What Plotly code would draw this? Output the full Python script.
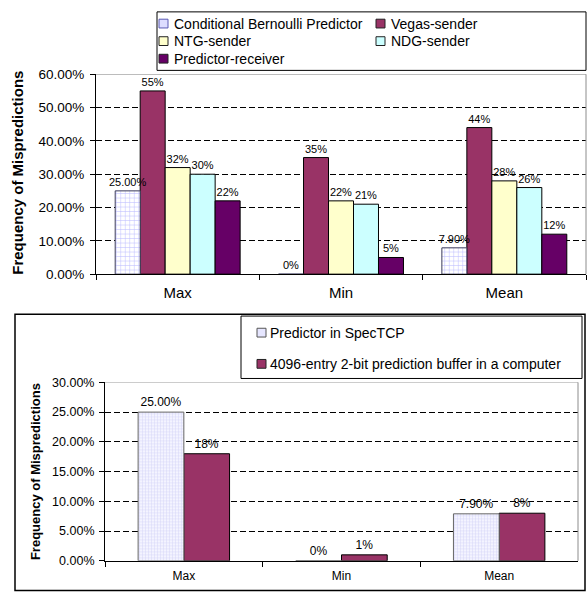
import plotly.graph_objects as go

W, H = 588, 600
FONT = "Liberation Sans, Arial, sans-serif"

categories = ["Max", "Min", "Mean"]

# Upper chart: frequency of mispredictions per sender/receiver predictor
upper_series = [
    "Conditional Bernoulli Predictor",
    "Vegas-sender",
    "NTG-sender",
    "NDG-sender",
    "Predictor-receiver",
]
cond_bernoulli = [0.25, 0.0, 0.079]
vegas_sender = [0.55, 0.35, 0.44]
ntg_sender = [0.32, 0.22, 0.28]
ndg_sender = [0.30, 0.21, 0.26]
predictor_receiver = [0.22, 0.05, 0.12]
upper_values = [cond_bernoulli, vegas_sender, ntg_sender, ndg_sender, predictor_receiver]
upper_decimals = [2, 0, 0, 0, 0]

# Lower chart: SpecTCP predictor vs. a classic 2-bit branch prediction buffer
lower_series = [
    "Predictor in SpecTCP",
    "4096-entry 2-bit prediction buffer in a computer",
]
spectcp = [0.25, 0.0, 0.079]
buffer_4096 = [0.18, 0.01, 0.08]
lower_values = [spectcp, buffer_4096]
lower_decimals = [2, 0]


def px(x):
    return x / W


def py(y):
    return 1 - y / H


def pct_label(v, decimals):
    return "0%" if v == 0 else f"{v * 100:.{decimals}f}%"


upper_markers = [
    dict(color="white", line=dict(color="#3a3a5a", width=1),
         pattern=dict(shape="+", fgcolor="#7a7aff", bgcolor="white", size=4.5, solidity=0.22)),
    dict(color="#993366", line=dict(color="black", width=1)),
    dict(color="#FFFFCC", line=dict(color="black", width=1)),
    dict(color="#CCFFFF", line=dict(color="black", width=1)),
    dict(color="#660066", line=dict(color="black", width=1)),
]
lower_markers = [
    dict(color="#F0F0FF", line=dict(color="#666666", width=1),
         pattern=dict(shape="+", fgcolor="#b4b4ee", bgcolor="#F4F4FF", size=3, solidity=0.3)),
    dict(color="#993366", line=dict(color="black", width=1)),
]

UW = 0.153   # upper bar width (category units)
LW = 0.29    # lower bar width

fig = go.Figure()

# the patterned series is added last so its wide labels stay on top of the neighbouring bars
for i in [1, 2, 3, 4, 0]:
    name, vals = upper_series[i], upper_values[i]
    fig.add_trace(go.Bar(
        x=categories, y=vals, name=name, marker=upper_markers[i],
        width=UW, offset=-2.5 * UW + i * UW,
        text=[pct_label(v, upper_decimals[i]) for v in vals],
        textposition="outside", constraintext="none", cliponaxis=False,
        textfont=dict(size=11, color="black", family=FONT),
        xaxis="x", yaxis="y", showlegend=False, hoverinfo="skip",
    ))

for i in [1, 0]:
    name, vals = lower_series[i], lower_values[i]
    fig.add_trace(go.Bar(
        x=categories, y=vals, name=name, marker=lower_markers[i],
        width=LW, offset=-LW + i * LW,
        text=[pct_label(v, lower_decimals[i]) for v in vals],
        textposition="outside", constraintext="none", cliponaxis=False,
        textfont=dict(size=12, color="black", family=FONT),
        xaxis="x2", yaxis="y2", showlegend=False, hoverinfo="skip",
    ))

grid = dict(showgrid=True, gridcolor="black", griddash="6px,3px", gridwidth=1,
            zeroline=False, showline=True, linecolor="black", linewidth=1,
            ticks="outside", tickcolor="black", ticklen=5, tickformat=".2%")
cat = dict(type="category", range=[-0.5, 2.5], showline=True, linecolor="black",
           linewidth=1, ticks="outside", tickson="boundaries", tickcolor="black",
           ticklen=5, showgrid=False)

fig.update_layout(
    width=W, height=H, margin=dict(l=0, r=0, t=0, b=0),
    paper_bgcolor="white", plot_bgcolor="white",
    barmode="overlay", showlegend=False,
    font=dict(family=FONT, color="black"),
    xaxis=dict(cat, domain=[px(96), px(586)], anchor="y",
               tickfont=dict(size=15, family=FONT, color="black"), ticklabelstandoff=5),
    yaxis=dict(grid, domain=[py(274), py(69)], anchor="x", range=[0, 0.6], dtick=0.1,
               tickfont=dict(size=13.5, family=FONT, color="black"), ticklabelstandoff=3),
    xaxis2=dict(cat, domain=[px(105), px(578)], anchor="y2",
                tickfont=dict(size=12, family=FONT, color="black"), ticklabelstandoff=4),
    yaxis2=dict(grid, domain=[py(568), py(385)], anchor="x2", range=[0, 0.3], dtick=0.05,
                tickfont=dict(size=12.5, family=FONT, color="black"), ticklabelstandoff=2),
)

shapes = []
# plot-area frames (top and right edges in grey)
for xa, ya, top in (("x", "y", 0.6), ("x2", "y2", 0.3)):
    shapes.append(dict(type="line", xref=f"{xa} domain", yref=ya, x0=0, x1=1, y0=top, y1=top,
                       line=dict(color="#8c8c8c", width=1), layer="above"))
    shapes.append(dict(type="line", xref=f"{xa} domain", yref=f"{ya} domain", x0=1, x1=1,
                       y0=0, y1=1, line=dict(color="#8c8c8c", width=1), layer="above"))

# outer frame of the lower chart
shapes.append(dict(type="rect", xref="paper", yref="paper", x0=px(15), x1=px(585),
                   y0=py(598.5), y1=py(315), line=dict(color="black", width=1.5)))

# legend boxes
shapes.append(dict(type="rect", xref="paper", yref="paper", x0=px(157), x1=px(586),
                   y0=py(65), y1=py(5), line=dict(color="black", width=1)))
shapes.append(dict(type="rect", xref="paper", yref="paper", x0=px(241), x1=px(582),
                   y0=py(381), y1=py(317), line=dict(color="black", width=1)))

annotations = []

# upper legend entries: two columns, three rows
upper_swatch = [("#DDDDFF", "#5a5ab4"), ("#993366", "#222222"), ("#FFFFCC", "#222222"),
                ("#CCFFFF", "#222222"), ("#660066", "#222222")]
col_x = [159, 376]
row_y = [17, 35, 53]
for i, name in enumerate(upper_series):
    cx, ry = col_x[i % 2], row_y[i // 2]
    fill, edge = upper_swatch[i]
    shapes.append(dict(type="rect", xref="paper", yref="paper", x0=px(cx), x1=px(cx + 9),
                       y0=py(ry + 4.5), y1=py(ry - 4.5), fillcolor=fill,
                       line=dict(color=edge, width=1)))
    annotations.append(dict(text=name, xref="paper", yref="paper", x=px(cx + 13), y=py(ry),
                            xanchor="left", yanchor="middle", showarrow=False,
                            font=dict(size=14, family=FONT, color="black")))

lower_swatch = [("#E6E6FF", "#555555"), ("#993366", "#222222")]
for i, name in enumerate(lower_series):
    ry = [334, 366][i]
    fill, edge = lower_swatch[i]
    shapes.append(dict(type="rect", xref="paper", yref="paper", x0=px(257), x1=px(266),
                       y0=py(ry + 4.5), y1=py(ry - 4.5), fillcolor=fill,
                       line=dict(color=edge, width=1)))
    annotations.append(dict(text=name, xref="paper", yref="paper", x=px(268), y=py(ry),
                            xanchor="left", yanchor="middle", showarrow=False,
                            font=dict(size=14, family=FONT, color="black")))

# axis titles
annotations.append(dict(text="<b>Frequency of Mispredictions</b>", xref="paper", yref="paper",
                        x=px(18), y=py(170), textangle=-90, showarrow=False,
                        xanchor="center", yanchor="middle",
                        font=dict(size=15, family=FONT, color="black")))
annotations.append(dict(text="<b>Frequency of Mispredictions</b>", xref="paper", yref="paper",
                        x=px(35), y=py(477), textangle=-90, showarrow=False,
                        xanchor="center", yanchor="middle",
                        font=dict(size=13, family=FONT, color="black")))

fig.update_layout(shapes=shapes, annotations=annotations)

fig.write_html("out.html")
